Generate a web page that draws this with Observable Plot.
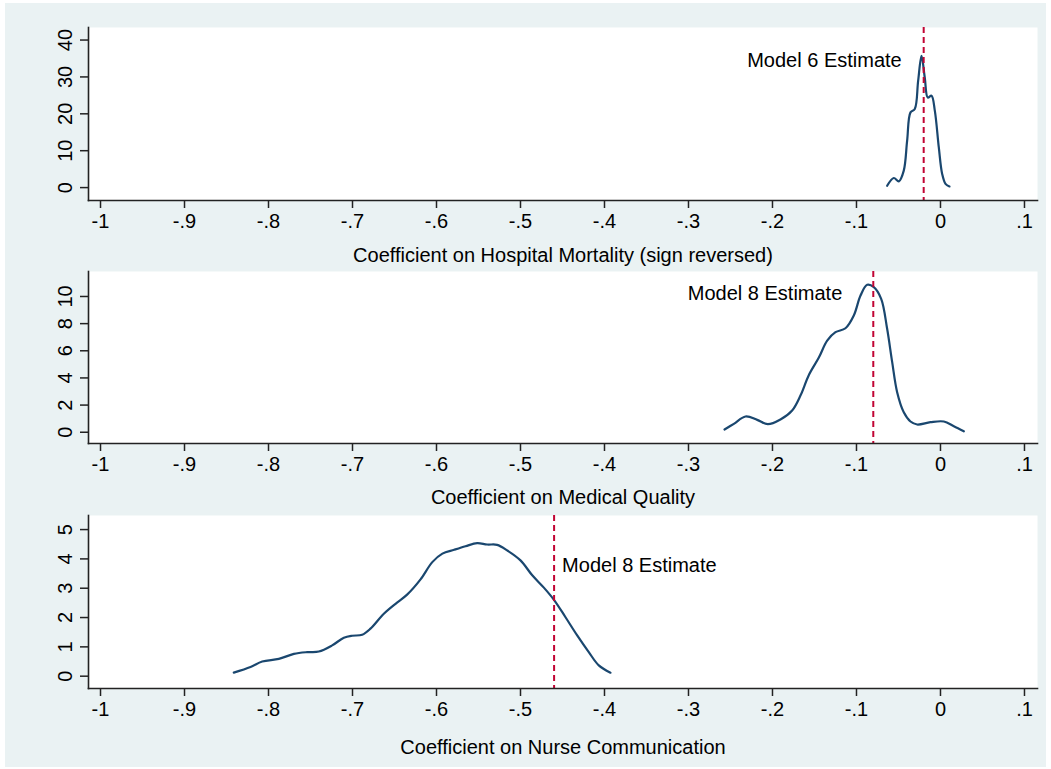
<!DOCTYPE html>
<html><head><meta charset="utf-8">
<script src="https://cdn.jsdelivr.net/npm/d3@7"></script>
<script src="https://cdn.jsdelivr.net/npm/@observablehq/plot@0.6"></script>
<style>
html,body{margin:0;padding:0;background:#fff;}
#wrap{position:absolute;left:5px;top:3px;width:1041px;height:764px;background:#eaf2f3;}
#wrap svg{display:block;}
</style></head><body><div id="wrap"></div>
<script>
const xTicks = [-1, -0.9, -0.8, -0.7, -0.6, -0.5, -0.4, -0.3, -0.2, -0.1, 0, 0.1];
const xTickLabels = ["-1", "-.9", "-.8", "-.7", "-.6", "-.5", "-.4", "-.3", "-.2", "-.1", "0", ".1"];
const axisTitles = ["Coefficient on Hospital Mortality (sign reversed)", "Coefficient on Medical Quality", "Coefficient on Nurse Communication"];
const estimateLabels = ["Model 6 Estimate", "Model 8 Estimate", "Model 8 Estimate"];
const estimates = [-0.02, -0.08, -0.46];

const mortalityTicks = [0, 10, 20, 30, 40];
const mortalityX = [-0.0635, -0.0556, -0.0496, -0.0437, -0.0397, -0.0357, -0.0306, -0.0266, -0.0226, -0.0187, -0.0151, -0.0107, -0.0067, -0.002, 0.002, 0.006, 0.0107];
const mortalityY = [0.5, 2.6, 1.7, 4.6, 12.7, 20.4, 21.3, 28.9, 35.7, 29.8, 24.4, 24.9, 20.8, 10.9, 3.7, 1.0, 0.3];

const qualityTicks = [0, 2, 4, 6, 8, 10];
const qualityX = [-0.2571, -0.246, -0.2321, -0.2182, -0.2056, -0.1905, -0.1766, -0.1667, -0.1568, -0.1448, -0.1349, -0.125, -0.1131, -0.1032, -0.0952, -0.0873, -0.0794, -0.0706, -0.0635, -0.0575, -0.0516, -0.0437, -0.0357, -0.0278, -0.0119, 0.004, 0.0159, 0.0278];
const qualityY = [0.2, 0.62, 1.16, 0.91, 0.59, 0.94, 1.6, 2.7, 4.2, 5.5, 6.75, 7.37, 7.66, 8.6, 10.07, 10.86, 10.69, 9.83, 7.62, 5.16, 2.95, 1.47, 0.79, 0.57, 0.74, 0.79, 0.44, 0.07];

const nurseTicks = [0, 1, 2, 3, 4, 5];
const nurseX = [-0.8413, -0.8214, -0.8075, -0.7877, -0.7698, -0.754, -0.7401, -0.7242, -0.7103, -0.7004, -0.6885, -0.6786, -0.6627, -0.647, -0.635, -0.619, -0.605, -0.593, -0.579, -0.5655, -0.5516, -0.5397, -0.5278, -0.5159, -0.5, -0.486, -0.4722, -0.4595, -0.4464, -0.4325, -0.4187, -0.4068, -0.3929];
const nurseY = [0.12, 0.31, 0.5, 0.59, 0.76, 0.82, 0.84, 1.05, 1.31, 1.38, 1.41, 1.62, 2.13, 2.51, 2.78, 3.3, 3.89, 4.18, 4.31, 4.43, 4.54, 4.49, 4.48, 4.29, 3.95, 3.44, 3.02, 2.58, 2.01, 1.39, 0.82, 0.37, 0.12];

const FONT = "'Liberation Sans', Arial, Helvetica, sans-serif";
const FS = 20;
const AXIS = "#222";

function panel(opts) {
  const data = opts.xs.map((x, i) => ({x, y: opts.ys[i]}));
  return Plot.plot({
    width: 1041,
    height: opts.height,
    marginLeft: 83,
    marginRight: 9,
    marginTop: opts.marginTop,
    marginBottom: opts.marginBottom,
    style: {background: "transparent", fontFamily: FONT, fontSize: FS + "px", color: "#000", overflow: "visible"},
    x: {domain: [-1.0143, 0.1155]},
    y: {domain: opts.yDomain},
    marks: [
      Plot.frame({fill: "white", stroke: null}),
      Plot.line(data, {x: "x", y: "y", stroke: "#1a476f", strokeWidth: 2.2, curve: "catmull-rom"}),
      Plot.ruleX([opts.estimate], {stroke: "#c10534", strokeWidth: 2, strokeDasharray: "6,4"}),
      Plot.text([opts.label], {x: opts.estimate, y: opts.labelY, text: d => d, textAnchor: opts.labelAnchor, dx: opts.labelDx, fontSize: FS, fill: "#000"}),
      Plot.frame({anchor: "left", stroke: AXIS, strokeWidth: 1.6}),
      Plot.frame({anchor: "bottom", stroke: AXIS, strokeWidth: 1.6}),
      Plot.axisX({ticks: xTicks, tickSize: 8, tickPadding: 5, stroke: AXIS, strokeWidth: 1.5, label: null,
        tickFormat: d => xTickLabels[xTicks.indexOf(d)]}),
      Plot.axisY({ticks: opts.yTicks, tickSize: 8, tickPadding: 9, tickRotate: -90, stroke: AXIS, strokeWidth: 1.5, label: null,
        tickFormat: d => String(d)}),
      Plot.text([opts.title], {frameAnchor: "bottom", text: d => d, dy: opts.titleDy, lineAnchor: "middle", fontSize: FS, fill: "#000"})
    ]
  });
}

const wrap = document.getElementById("wrap");
wrap.appendChild(panel({
  xs: mortalityX, ys: mortalityY, yTicks: mortalityTicks, yDomain: [-3.5, 43.4],
  height: 260, marginTop: 24, marginBottom: 63,
  estimate: estimates[0], label: estimateLabels[0], labelY: 34.3, labelAnchor: "end", labelDx: -22,
  title: axisTitles[0], titleDy: 55
}));
wrap.appendChild(panel({
  xs: qualityX, ys: qualityY, yTicks: qualityTicks, yDomain: [-0.83, 11.84],
  height: 243, marginTop: 8, marginBottom: 63,
  estimate: estimates[1], label: estimateLabels[1], labelY: 10.2, labelAnchor: "end", labelDx: -31,
  title: axisTitles[1], titleDy: 54
}));
wrap.appendChild(panel({
  xs: nurseX, ys: nurseY, yTicks: nurseTicks, yDomain: [-0.42, 5.48],
  height: 261, marginTop: 9, marginBottom: 79,
  estimate: estimates[2], label: estimateLabels[2], labelY: 3.78, labelAnchor: "start", labelDx: 8,
  title: axisTitles[2], titleDy: 59
}));
</script></body></html>
